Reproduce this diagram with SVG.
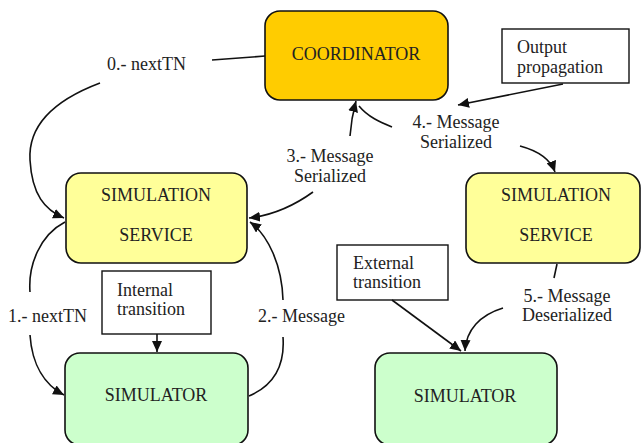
<svg xmlns="http://www.w3.org/2000/svg" width="643" height="443" viewBox="0 0 643 443">
<style>
  text { font-family: "Liberation Serif", Tinos, "Times New Roman", "DejaVu Serif", serif; font-size: 18px; fill: #222; }
  .box { stroke: #111; stroke-width: 1.6; }
  .coord { fill: #FFCC00; }
  .svc { fill: #FFFF99; }
  .sim { fill: #CCFFCC; }
  .note { fill: #fff; stroke: #111; stroke-width: 1.4; }
  .mid { text-anchor: middle; }
  .c { fill: none; stroke: #111; stroke-width: 1.6; }
  .a { marker-end: url(#arr); }
</style>
<defs>
  <marker id="arr" markerWidth="12" markerHeight="10" refX="11" refY="5" orient="auto" markerUnits="userSpaceOnUse">
    <path d="M0,0 L11,5 L0,10 z" fill="#111"/>
  </marker>
</defs>
<rect width="643" height="443" fill="#fff"/>

<g id="coordinator">
  <rect class="box coord" x="265" y="11" width="183" height="89" rx="15"/>
  <text class="mid" x="356" y="60">COORDINATOR</text>
</g>
<g id="service-left">
  <rect class="box svc" x="66" y="173" width="181" height="90" rx="15"/>
  <text class="mid" x="156" y="201">SIMULATION</text>
  <text class="mid" x="156" y="241">SERVICE</text>
</g>
<g id="service-right">
  <rect class="box svc" x="466" y="173" width="174" height="90" rx="15"/>
  <text class="mid" x="556" y="201">SIMULATION</text>
  <text class="mid" x="556" y="241">SERVICE</text>
</g>
<g id="simulator-left">
  <rect class="box sim" x="65" y="353" width="183" height="92" rx="15"/>
  <text class="mid" x="156" y="401">SIMULATOR</text>
</g>
<g id="simulator-right">
  <rect class="box sim" x="375" y="353" width="182" height="92" rx="15"/>
  <text class="mid" x="465" y="402">SIMULATOR</text>
</g>
<g id="note-internal">
  <rect class="note" x="102" y="271" width="109" height="63"/>
  <text x="117" y="296">Internal</text>
  <text x="117" y="315">transition</text>
</g>
<g id="note-external">
  <rect class="note" x="337" y="245" width="111" height="55"/>
  <text x="353" y="269">External</text>
  <text x="353" y="288">transition</text>
</g>
<g id="note-output">
  <rect class="note" x="502" y="29" width="127" height="54"/>
  <text x="517" y="53">Output</text>
  <text x="517" y="73">propagation</text>
</g>

<g id="connectors">
  <path class="c" d="M265,56 L212,60"/>
  <path class="c a" d="M100,83 C55,100 28,125 30,160 C32,195 45,210 64,218"/>
  <path class="c" d="M65,222 C40,235 28,265 30,292"/>
  <path class="c a" d="M30,335 C32,365 45,385 64,395"/>
  <path class="c" d="M249,396 C275,385 285,365 283,337"/>
  <path class="c a" d="M283,300 C282,265 268,235 250,222"/>
  <path class="c a" d="M313,192 C295,205 275,215 249,218"/>
  <path class="c a" d="M350,136 C351,122 353,112 356,101"/>
  <path class="c" d="M392,127 C380,122 368,117 359,106"/>
  <path class="c a" d="M520,146 C535,150 550,158 555,172"/>
  <path class="c a" d="M563,84 L458,105"/>
  <path class="c a" d="M157,334 L157,352"/>
  <path class="c a" d="M392,300 L461,351"/>
  <path class="c" d="M557,264 L554,278"/>
  <path class="c a" d="M503,308 C480,315 466,330 465,351"/>
</g>

<g id="labels">
  <text x="107" y="70">0.- nextTN</text>
  <text class="mid" x="330" y="162">3.- Message</text>
  <text class="mid" x="330" y="182">Serialized</text>
  <text class="mid" x="456" y="128">4.- Message</text>
  <text class="mid" x="456" y="148">Serialized</text>
  <text x="8" y="322">1.- nextTN</text>
  <text x="258" y="322">2.- Message</text>
  <text class="mid" x="567" y="302">5.- Message</text>
  <text class="mid" x="567" y="321">Deserialized</text>
</g>
</svg>
